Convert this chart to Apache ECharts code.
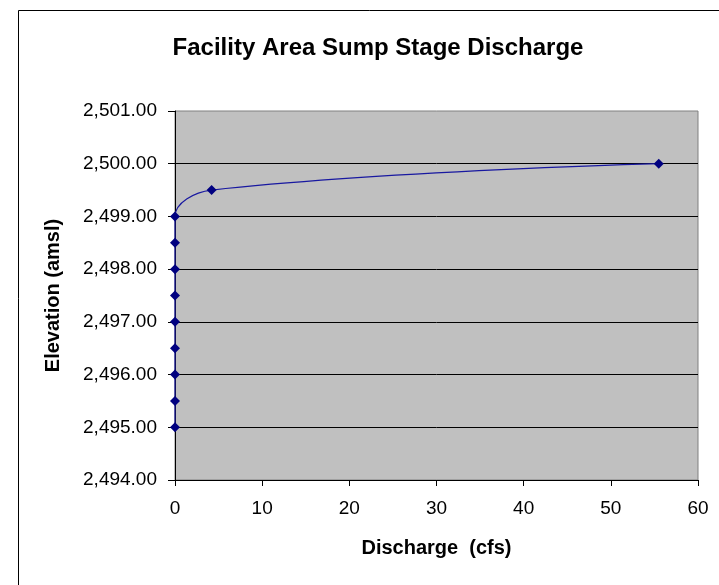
<!DOCTYPE html>
<html>
<head>
<meta charset="utf-8">
<script src="https://cdn.jsdelivr.net/npm/echarts@6/dist/echarts.min.js"></script>
<style>
html,body{margin:0;padding:0;background:#fff;}
#c{width:719px;height:585px;}
</style>
</head>
<body>
<div id="c"></div>
<script>
var discharge = [0, 0, 0, 0, 0, 0, 0, 0, 0, 4.2, 55.5];
var elevation = [2495, 2495.5, 2496, 2496.5, 2497, 2497.5, 2498, 2498.5, 2499, 2499.5, 2500];
var xTicks = [0, 10, 20, 30, 40, 50, 60];
var yTicks = [2494, 2495, 2496, 2497, 2498, 2499, 2500, 2501];

var points = discharge.map(function (d, i) { return [d, elevation[i]]; });

function fmt(v) {
  var s = v.toFixed(2);
  var parts = s.split('.');
  parts[0] = parts[0].replace(/\B(?=(\d{3})+(?!\d))/g, ',');
  return parts.join('.');
}

var chart = echarts.init(document.getElementById('c'), null, {renderer: 'canvas'});
var font = 'Liberation Sans, Arial, sans-serif';
chart.setOption({
  backgroundColor: '#ffffff',
  animation: false,
  title: {
    text: 'Facility Area Sump Stage Discharge',
    left: 373, top: 31, textAlign: 'center',
    textStyle: {fontFamily: font, fontSize: 24, fontWeight: 'bold', color: '#000'}
  },
  graphic: [{
    type: 'rect', silent: true,
    shape: {x: 18.5, y: 10.5, width: 740, height: 600},
    style: {fill: null, stroke: '#000', lineWidth: 1}
  }],
  grid: {
    left: 175, top: 111, right: 21, bottom: 105,
    show: true, backgroundColor: '#c0c0c0', borderColor: '#808080', borderWidth: 1,
    containLabel: false
  },
  xAxis: {
    type: 'value', min: xTicks[0], max: xTicks[xTicks.length - 1], interval: 10,
    name: 'Discharge  (cfs)', nameLocation: 'middle', nameGap: 58,
    nameTextStyle: {fontFamily: font, fontSize: 20, fontWeight: 'bold', color: '#000'},
    axisLine: {onZero: false, lineStyle: {color: '#000', width: 1}},
    axisTick: {show: true, length: 6, lineStyle: {color: '#000'}},
    axisLabel: {fontFamily: font, fontSize: 19, color: '#000', margin: 19},
    splitLine: {show: false}
  },
  yAxis: {
    type: 'value', min: yTicks[0], max: yTicks[yTicks.length - 1], interval: 1,
    name: 'Elevation (amsl)', nameLocation: 'middle', nameGap: 112,
    nameTextStyle: {fontFamily: font, fontSize: 20, fontWeight: 'bold', color: '#000'},
    axisLine: {show: true, lineStyle: {color: '#000', width: 1}},
    axisTick: {show: true, length: 7, lineStyle: {color: '#000'}},
    axisLabel: {fontFamily: font, fontSize: 19, color: '#000', margin: 18, formatter: fmt},
    splitLine: {show: true, showMaxLine: false, lineStyle: {color: '#000', width: 1}}
  },
  series: [{
    type: 'line',
    data: points,
    smooth: 0.4,
    symbol: 'diamond',
    symbolSize: 10,
    itemStyle: {color: '#000080'},
    lineStyle: {color: '#1818a0', width: 1.2}
  }]
});
</script>
</body>
</html>
